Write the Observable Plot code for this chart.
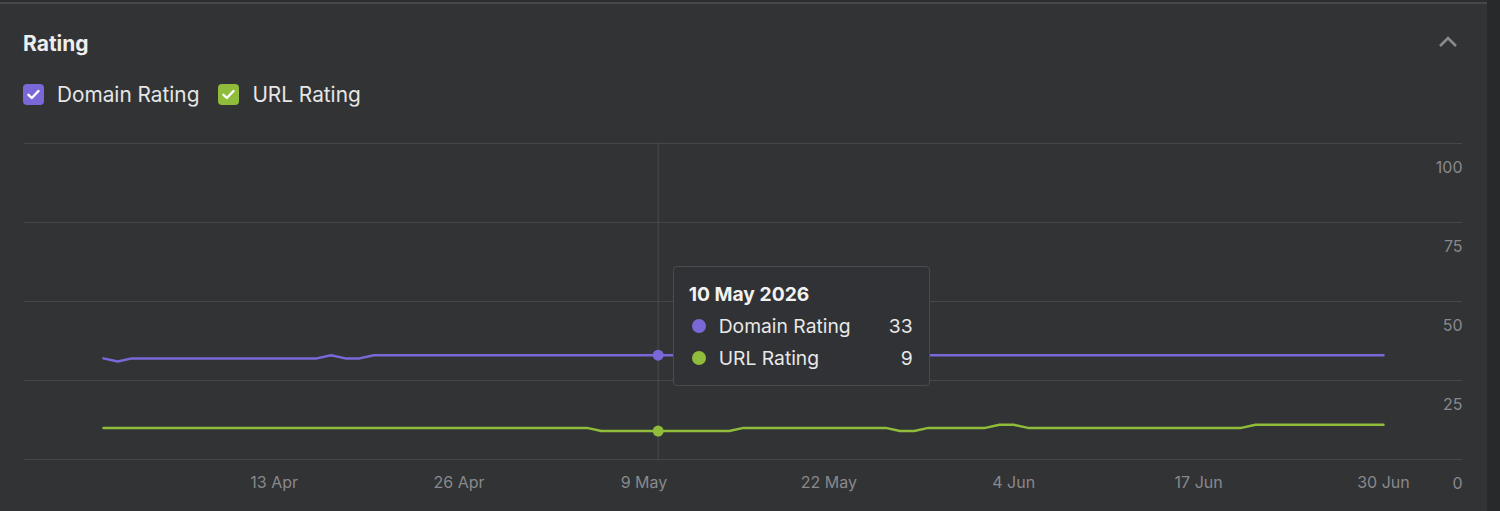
<!DOCTYPE html>
<html>
<head>
<meta charset="utf-8">
<script src="https://cdn.jsdelivr.net/npm/d3@7"></script>
<script src="https://cdn.jsdelivr.net/npm/@observablehq/plot@0.6"></script>
<style>
  html, body { margin:0; padding:0; }
  body { width:1500px; height:511px; background:#323335; font-family:Inter, "Noto Sans", sans-serif; position:relative; overflow:hidden; }
  .topline { position:absolute; left:0; top:2px; width:1487px; height:2px; background:#47484b; }
  .toparea { position:absolute; left:0; top:0; width:1487px; height:2px; background:#2c2d2f; }
  .strip { position:absolute; left:1487px; top:0; width:13px; height:511px; background:#28292b; }
  .title { position:absolute; left:23px; top:32px; font-size:21px; font-weight:700; color:#eeeeee; line-height:24px; }
  .chev { position:absolute; left:1437px; top:33px; }
  .legend { position:absolute; left:23px; top:82px; display:flex; align-items:center; font-size:20.8px; color:#e6e6e6; }
  .item { display:flex; align-items:center; margin-right:19px; }
  .box { width:21px; height:21px; border-radius:4px; margin-right:13px; display:flex; align-items:center; justify-content:center; }
  #chart { position:absolute; left:0; top:130px; }
  .tip { position:absolute; box-sizing:border-box; width:257px; height:120px; background:#313235; border:1px solid #4a4b4e; border-radius:4px; color:#e8e8e8; font-size:19.3px; }
  .tip .head { position:absolute; left:15px; top:15px; font-weight:700; color:#f2f2f2; font-size:19.3px; }
  .tip .row { position:absolute; left:18px; right:16px; height:24px; display:flex; align-items:center; }
  .tip .dot { width:14px; height:14px; border-radius:50%; margin-right:13px; }
  .tip .val { margin-left:auto; }
</style>
</head>
<body>
<div class="toparea"></div>
<div class="topline"></div>
<div class="strip"></div>
<div class="title">Rating</div>
<svg class="chev" width="22" height="18" viewBox="0 0 22 18"><path d="M3 13 L11 5 L19 13" fill="none" stroke="#8a8b8e" stroke-width="2.6"/></svg>
<div class="legend" id="legend"></div>
<div id="chart"></div>
<div class="tip" id="tip"></div>
<script>
const seriesNames = ["Domain Rating", "URL Rating"];
const seriesColors = ["#7b68d8", "#8fbd3b"];

const dates = [
  "2026-04-01","2026-04-02","2026-04-03","2026-04-04","2026-04-05","2026-04-06","2026-04-07","2026-04-08","2026-04-09","2026-04-10",
  "2026-04-11","2026-04-12","2026-04-13","2026-04-14","2026-04-15","2026-04-16","2026-04-17","2026-04-18","2026-04-19","2026-04-20",
  "2026-04-21","2026-04-22","2026-04-23","2026-04-24","2026-04-25","2026-04-26","2026-04-27","2026-04-28","2026-04-29","2026-04-30",
  "2026-05-01","2026-05-02","2026-05-03","2026-05-04","2026-05-05","2026-05-06","2026-05-07","2026-05-08","2026-05-09","2026-05-10",
  "2026-05-11","2026-05-12","2026-05-13","2026-05-14","2026-05-15","2026-05-16","2026-05-17","2026-05-18","2026-05-19","2026-05-20",
  "2026-05-21","2026-05-22","2026-05-23","2026-05-24","2026-05-25","2026-05-26","2026-05-27","2026-05-28","2026-05-29","2026-05-30",
  "2026-05-31","2026-06-01","2026-06-02","2026-06-03","2026-06-04","2026-06-05","2026-06-06","2026-06-07","2026-06-08","2026-06-09",
  "2026-06-10","2026-06-11","2026-06-12","2026-06-13","2026-06-14","2026-06-15","2026-06-16","2026-06-17","2026-06-18","2026-06-19",
  "2026-06-20","2026-06-21","2026-06-22","2026-06-23","2026-06-24","2026-06-25","2026-06-26","2026-06-27","2026-06-28","2026-06-29",
  "2026-06-30"
];

const domainRating = [
  32,31,32,32,32,32,32,32,32,32,
  32,32,32,32,32,32,33,32,32,33,
  33,33,33,33,33,33,33,33,33,33,
  33,33,33,33,33,33,33,33,33,33,
  33,33,33,33,33,33,33,33,33,33,
  33,33,33,33,33,33,33,33,33,33,
  33,33,33,33,33,33,33,33,33,33,
  33,33,33,33,33,33,33,33,33,33,
  33,33,33,33,33,33,33,33,33,33,
  33
];

const urlRating = [
  10,10,10,10,10,10,10,10,10,10,
  10,10,10,10,10,10,10,10,10,10,
  10,10,10,10,10,10,10,10,10,10,
  10,10,10,10,10,9,9,9,9,9,
  9,9,9,9,9,10,10,10,10,10,
  10,10,10,10,10,10,9,9,10,10,
  10,10,10,11,11,10,10,10,10,10,
  10,10,10,10,10,10,10,10,10,10,
  10,11,11,11,11,11,11,11,11,11,
  11
];

const xTicks = ["2026-04-13","2026-04-26","2026-05-09","2026-05-22","2026-06-04","2026-06-17","2026-06-30"];
const xTickLabels = ["13 Apr","26 Apr","9 May","22 May","4 Jun","17 Jun","30 Jun"];
const yTicks = [0, 25, 50, 75, 100];
const hoverDate = "2026-05-10";
const hoverTitle = "10 May 2026";

const parse = d3.utcParse("%Y-%m-%d");
const dr = dates.map((d, i) => ({date: parse(d), value: domainRating[i]}));
const ur = dates.map((d, i) => ({date: parse(d), value: urlRating[i]}));
const hi = dates.indexOf(hoverDate);
const hoverPts = [
  {date: parse(hoverDate), value: domainRating[hi], c: seriesColors[0]},
  {date: parse(hoverDate), value: urlRating[hi], c: seriesColors[1]}
];

const chart = Plot.plot({
  width: 1487,
  height: 381,
  marginTop: 13,
  marginBottom: 52,
  marginLeft: 24,
  marginRight: 25,
  x: {type: "utc", domain: [parse(dates[0]), parse(dates[dates.length - 1])], insetLeft: 79, insetRight: 79, axis: null},
  y: {domain: [0, 100], axis: null},
  style: {background: "transparent", fontFamily: "Inter, sans-serif", overflow: "visible"},
  marks: [
    Plot.ruleY(yTicks, {stroke: "#46474a", strokeWidth: 1.2}),
    Plot.ruleX([parse(hoverDate)], {stroke: "#4a4b4e", strokeWidth: 1}),
    Plot.line(dr, {x: "date", y: "value", stroke: seriesColors[0], strokeWidth: 2.5}),
    Plot.line(ur, {x: "date", y: "value", stroke: seriesColors[1], strokeWidth: 2.5}),
    Plot.dot(hoverPts, {x: "date", y: "value", fill: "c", r: 5.5, stroke: null}),
    Plot.text(yTicks, {y: d => d, text: d => String(d), frameAnchor: "right", textAnchor: "end", dy: 24, fill: "#88898c", fontSize: 16}),
    Plot.text(xTicks, {x: d => parse(d), text: (d, i) => xTickLabels[i], frameAnchor: "bottom", dy: 28, fill: "#88898c", fontSize: 16})
  ]
});
document.getElementById("chart").appendChild(chart);

// legend
const check = '<svg width="13" height="11" viewBox="0 0 13 11"><path d="M1.5 5.8 L4.8 9 L11.5 2" fill="none" stroke="#ffffff" stroke-width="2.4" stroke-linecap="round" stroke-linejoin="round"/></svg>';
document.getElementById("legend").innerHTML = seriesNames.map((n, i) =>
  `<div class="item"><div class="box" style="background:${seriesColors[i]}">${check}</div><span>${n}</span></div>`).join("");

// tooltip
const xs = chart.scale("x");
const ys = chart.scale("y");
const tx = xs.apply(parse(hoverDate));
const tip = document.getElementById("tip");
tip.style.left = (tx + 15) + "px";
tip.style.top = (130 + ys.apply(50) - 35) + "px";
const vals = [domainRating[hi], urlRating[hi]];
tip.innerHTML = `<div class="head">${hoverTitle}</div>` +
  seriesNames.map((n, i) => `<div class="row" style="top:${47 + i * 32}px"><div class="dot" style="background:${seriesColors[i]}"></div><span>${n}</span><span class="val">${vals[i]}</span></div>`).join("");
</script>
</body>
</html>
